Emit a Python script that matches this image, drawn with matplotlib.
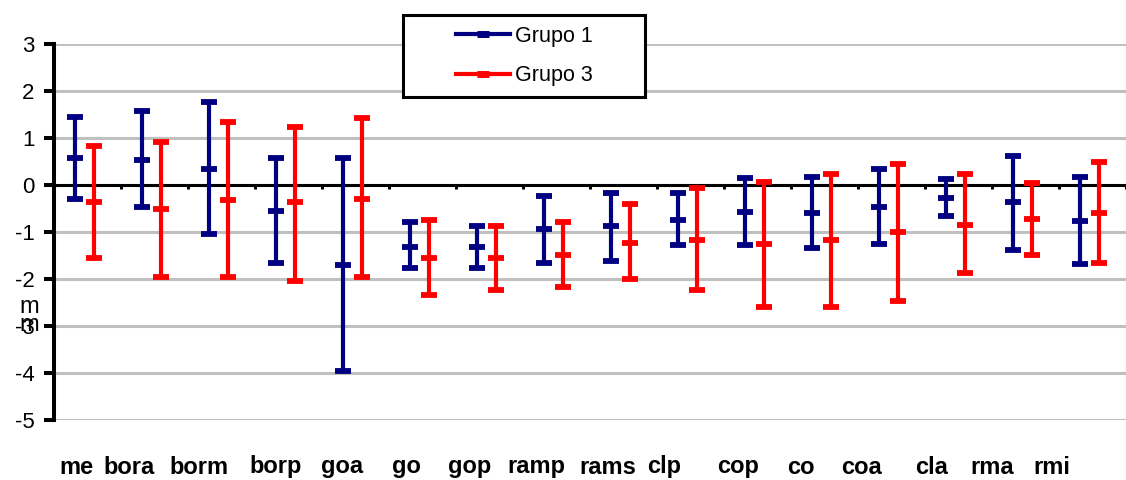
import numpy as np
import matplotlib.pyplot as plt
import matplotlib.transforms as mtransforms
from matplotlib.lines import Line2D
from matplotlib.patches import Rectangle

plt.rcParams['font.family'] = ['Liberation Sans', 'DejaVu Sans']
plt.rcParams['axes.unicode_minus'] = False

# categories and values
categories = ['me', 'bora', 'borm', 'borp', 'goa', 'go', 'gop', 'ramp', 'rams',
              'clp', 'cop', 'co', 'coa', 'cla', 'rma', 'rmi']

g1_high = [1.45, 1.57, 1.76, 0.57, 0.57, -0.78, -0.87, -0.23, -0.16, -0.16, 0.14, 0.18, 0.34, 0.13, 0.62, 0.18]
g1_mean = [0.57, 0.53, 0.34, -0.55, -1.70, -1.31, -1.32, -0.94, -0.88, -0.75, -0.57, -0.59, -0.46, -0.28, -0.37, -0.76]
g1_low = [-0.30, -0.47, -1.05, -1.65, -3.95, -1.77, -1.77, -1.67, -1.62, -1.28, -1.28, -1.35, -1.26, -0.67, -1.39, -1.68]

g3_high = [0.84, 0.91, 1.33, 1.24, 1.42, -0.74, -0.87, -0.78, -0.41, -0.07, 0.06, 0.23, 0.44, 0.23, 0.05, 0.48]
g3_mean = [-0.36, -0.50, -0.31, -0.36, -0.30, -1.56, -1.56, -1.49, -1.23, -1.18, -1.26, -1.18, -1.01, -0.85, -0.72, -0.59]
g3_low = [-1.56, -1.95, -1.95, -2.04, -1.95, -2.33, -2.24, -2.16, -2.01, -2.24, -2.59, -2.59, -2.46, -1.87, -1.49, -1.65]

# x positions of the category labels (they sit a bit left of the groups)
label_x = [-0.16, 0.62, 1.67, 2.81, 3.80, 4.76, 5.70, 6.70, 7.76, 8.61, 9.71,
           10.65, 11.55, 12.60, 13.50, 14.40]

W, H = 1126, 480
fig = plt.figure(figsize=(W / 100, H / 100), dpi=100)
ax = fig.add_axes([54 / W, 60 / H, 1 - 54 / W, 376 / H])

x = np.arange(len(categories))


def draw_group(xpos, low, mean, high, color):
    low, mean, high = np.array(low), np.array(mean), np.array(high)
    ax.errorbar(xpos, mean, yerr=[mean - low, high - mean], fmt='none',
                ecolor=color, elinewidth=3, capsize=6, capthick=4.2, zorder=3)
    ax.plot(xpos, mean, ls='none', marker='_', ms=12, mew=4.2, color=color, zorder=4)


draw_group(x - 0.18, g1_low, g1_mean, g1_high, '#000080')
draw_group(x + 0.10, g3_low, g3_mean, g3_high, '#FF0000')

ax.set_xlim(-0.5, 15.48)
ax.set_ylim(-5, 3)
ax.set_yticks(range(-5, 4))
ax.yaxis.grid(True, color='#c0c0c0', lw=2.2)
ax.set_axisbelow(True)

for s in ['top', 'right']:
    ax.spines[s].set_visible(False)
ax.spines['bottom'].set_position(('data', 0))
ax.spines['bottom'].set_linewidth(2.2)
ax.spines['left'].set_linewidth(2.9)

ax.set_xticks(np.arange(-0.5, 16, 1))
ax.set_xticklabels([])
ax.tick_params(axis='x', direction='out', length=3, width=2.2)
ax.tick_params(axis='y', direction='out', length=7, width=2.9, pad=7, labelsize=16)

trans = mtransforms.blended_transform_factory(ax.transData, ax.transAxes)
for lx, name in zip(label_x, categories):
    ax.text(lx, -0.125, name, transform=trans, ha='center', va='center',
            fontsize=17, fontweight='bold')

fig.text(29 / W, 1 - 316 / H, 'm\nm', ha='center', va='center', fontsize=17, linespacing=0.75)

# legend box
rect = Rectangle((403 / W, 1 - 97 / H), 242 / W, 82 / H, transform=fig.transFigure,
                 facecolor='white', edgecolor='black', lw=2.2, zorder=4)
fig.add_artist(rect)
handles = [Line2D([], [], color='#000080', lw=3, marker='_', ms=8, mew=5),
           Line2D([], [], color='#FF0000', lw=3, marker='_', ms=8, mew=5)]
leg = fig.legend(handles, ['Grupo 1', 'Grupo 3'], loc='center',
                 bbox_to_anchor=(524 / W, 1 - 56 / H), frameon=False, fontsize=15.5,
                 handlelength=2.55, handletextpad=0.2, labelspacing=0.85, numpoints=1)
leg.set_zorder(5)

fig.savefig('out.png', dpi=100)
